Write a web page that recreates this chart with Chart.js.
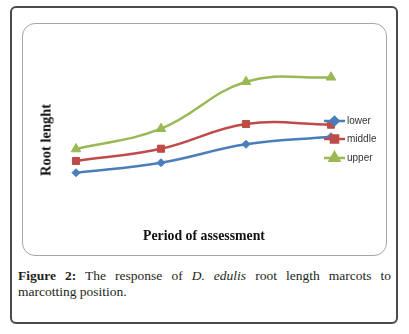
<!DOCTYPE html>
<html>
<head>
<meta charset="utf-8">
<script src="https://cdn.jsdelivr.net/npm/chart.js@4.4.0/dist/chart.umd.min.js"></script>
<style>
  html, body { margin: 0; padding: 0; background: #fff; }
  body { width: 409px; height: 334px; position: relative; overflow: hidden; }
  #frame {
    position: absolute; left: 10px; top: 6px; width: 384px; height: 314px;
    border: 2px solid #4a4a4a; border-radius: 6px;
  }
  #box {
    position: absolute; left: 22px; top: 23px; width: 363px; height: 231px;
    border: 1px solid #a6a6a6; border-radius: 13px;
  }
  #wrap { position: absolute; left: 22px; top: 23px; width: 365px; height: 233px; }
  .ttl { position: absolute; font-family: "Liberation Serif", "DejaVu Serif", serif;
         font-weight: bold; color: #111; white-space: nowrap; }
  #ytitle { left: 46px; top: 140px; font-size: 14.5px; transform: translate(-50%, -50%) rotate(-90deg); }
  #xtitle { left: 204px; top: 236px; font-size: 13.8px; transform: translate(-50%, -50%); }
  #caption {
    position: absolute; left: 18px; top: 268px; width: 373px;
    font-family: "Liberation Serif", "DejaVu Serif", serif; font-size: 13.5px;
    line-height: 16px; color: #231f20; text-align: justify; text-align-last: left;
  }
</style>
</head>
<body>
<div id="frame"></div>
<div id="box"></div>
<div id="wrap"><canvas id="grafico" width="365" height="233"></canvas></div>
<div class="ttl" id="ytitle">Root lenght</div>
<div class="ttl" id="xtitle">Period of assessment</div>
<div id="caption"><b>Figure 2:</b> The response of <i>D. edulis</i> root length marcots to marcotting position.</div>

<script>
// dados (escala arbitrária, sem eixo visível)
const periodos = ["1", "2", "3", "4"];
const lower = [4.73, 5.73, 7.57, 8.33];
const middle = [5.9, 7.13, 9.6, 9.53];
const upper = [7.1, 9.13, 13.83, 14.27];

// legenda desenhada por cima da área do gráfico, como no original
const legendaDireita = {
  id: "legendaDireita",
  afterDraw(chart) {
    const c = chart.ctx;
    const x0 = 302, ys = [98, 116, 135];
    chart.data.datasets.forEach((ds, i) => {
      const y = ys[i];
      c.save();
      c.strokeStyle = ds.borderColor;
      c.lineWidth = 2.5;
      c.beginPath();
      c.moveTo(x0, y);
      c.lineTo(x0 + 21, y);
      c.stroke();
      c.fillStyle = ds.pointBackgroundColor;
      c.strokeStyle = ds.pointBackgroundColor;
      Chart.helpers.drawPoint(c, { pointStyle: ds.pointStyle, radius: ds.pointRadius, rotation: 0, borderWidth: 1 }, x0 + 10.5, y);
      c.fillStyle = "#333";
      c.font = "10px 'Liberation Sans', Arial, sans-serif";
      c.textBaseline = "middle";
      c.fillText(ds.label, x0 + 23, y + 0.5);
      c.restore();
    });
  }
};

const ctx = document.getElementById("grafico").getContext("2d");
new Chart(ctx, {
  type: "line",
  data: {
    labels: periodos,
    datasets: [
      { label: "lower", data: lower, borderColor: "#4a7ebb", pointBackgroundColor: "#4a7ebb",
        pointBorderColor: "#4a7ebb", pointStyle: "rectRot", pointRadius: 4 },
      { label: "middle", data: middle, borderColor: "#be4b48", pointBackgroundColor: "#be4b48",
        pointBorderColor: "#be4b48", pointStyle: "rect", pointRadius: 5 },
      { label: "upper", data: upper, borderColor: "#98b954", pointBackgroundColor: "#98b954",
        pointBorderColor: "#98b954", pointStyle: "triangle", pointRadius: 5.5 }
    ]
  },
  options: {
    responsive: false,
    animation: false,
    layout: { padding: { left: 54, right: 56, top: 17, bottom: 36 } },
    elements: { line: { borderWidth: 2.5, tension: 0.4, cubicInterpolationMode: "default" } },
    datasets: { line: { clip: false } },
    scales: {
      x: { display: false, offset: false },
      y: { display: false, min: 0, max: 18 }
    },
    plugins: { legend: { display: false }, tooltip: { enabled: false } }
  },
  plugins: [legendaDireita]
});
</script>
</body>
</html>
